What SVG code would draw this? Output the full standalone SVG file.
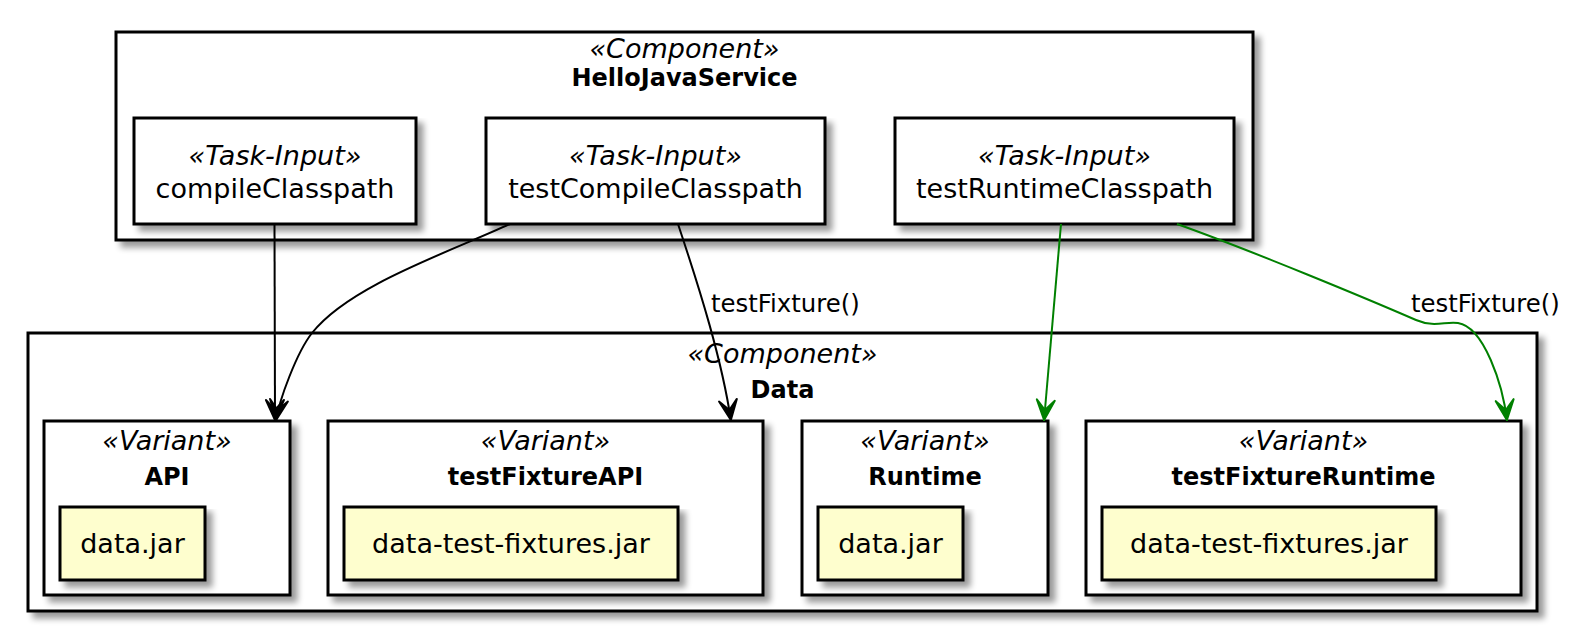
<svg xmlns="http://www.w3.org/2000/svg" width="1583" height="631" viewBox="0 0 1583 631">
<defs>
<filter id="sh" x="-5%" y="-5%" width="115%" height="125%">
<feGaussianBlur in="SourceAlpha" stdDeviation="3"/>
<feOffset dx="6" dy="6" result="o"/>
<feComponentTransfer><feFuncA type="linear" slope="0.4"/></feComponentTransfer>
<feMerge><feMergeNode/><feMergeNode in="SourceGraphic"/></feMerge>
</filter>
<marker id="ah" markerUnits="userSpaceOnUse" orient="auto" refX="0" refY="0" markerWidth="40" markerHeight="40" viewBox="-30 -20 40 40" overflow="visible">
<path d="M-1,0 L-21,-9 L-11,0 L-21,9 Z" fill="#000" stroke="#000" stroke-width="2" stroke-linejoin="round"/>
</marker>
<marker id="ahg" markerUnits="userSpaceOnUse" orient="auto" refX="0" refY="0" markerWidth="40" markerHeight="40" viewBox="-30 -20 40 40" overflow="visible">
<path d="M-1,0 L-21,-9 L-11,0 L-21,9 Z" fill="#008000" stroke="#008000" stroke-width="2" stroke-linejoin="round"/>
</marker>
</defs>
<style>
.box{fill:#fff;stroke:#000;stroke-width:3;filter:url(#sh)}
.art{fill:#FEFECE;stroke:#000;stroke-width:3;filter:url(#sh)}
text{font-family:"DejaVu Sans",sans-serif;fill:#000;text-anchor:middle}
.st{font-style:italic;font-size:27px}
.nm{font-size:27px}
.bd{font-weight:bold;font-size:24px}
.lb{font-size:24.4px;text-anchor:start}
.e{fill:none;stroke:#000;stroke-width:2;marker-end:url(#ah)}
.g{fill:none;stroke:#008000;stroke-width:2;marker-end:url(#ahg)}
</style>
<rect width="1583" height="631" fill="#fff"/>

<g id="HelloJavaService">
<rect class="box" x="116" y="32" width="1137" height="208"/>
<text class="st" x="684.5" y="58">«Component»</text>
<text class="bd" x="684.5" y="86">HelloJavaService</text>
</g>
<g id="compileClasspath">
<rect class="box" x="134" y="118" width="282" height="106"/>
<text class="st" x="275" y="165">«Task-Input»</text>
<text class="nm" x="275" y="198">compileClasspath</text>
</g>
<g id="testCompileClasspath">
<rect class="box" x="486" y="118" width="339" height="106"/>
<text class="st" x="655.5" y="165">«Task-Input»</text>
<text class="nm" x="655.5" y="198">testCompileClasspath</text>
</g>
<g id="testRuntimeClasspath">
<rect class="box" x="895" y="118" width="339" height="106"/>
<text class="st" x="1064.5" y="165">«Task-Input»</text>
<text class="nm" x="1064.5" y="198">testRuntimeClasspath</text>
</g>

<g id="Data">
<rect class="box" x="28" y="333" width="1509" height="278"/>
<text class="st" x="782.5" y="363">«Component»</text>
<text class="bd" x="782.5" y="398">Data</text>
</g>
<g id="API">
<rect class="box" x="44" y="421" width="246" height="174"/>
<text class="st" x="167" y="450">«Variant»</text>
<text class="bd" x="167" y="485">API</text>
</g>
<g id="API-data-jar">
<rect class="art" x="60" y="507" width="145" height="73"/>
<text class="nm" x="132.5" y="553">data.jar</text>
</g>
<g id="testFixtureAPI">
<rect class="box" x="328" y="421" width="435" height="174"/>
<text class="st" x="545.5" y="450">«Variant»</text>
<text class="bd" x="545.5" y="485">testFixtureAPI</text>
</g>
<g id="testFixtureAPI-jar">
<rect class="art" x="344" y="507" width="334" height="73"/>
<text class="nm" x="511" y="553">data-test-fixtures.jar</text>
</g>
<g id="Runtime">
<rect class="box" x="802" y="421" width="246" height="174"/>
<text class="st" x="925" y="450">«Variant»</text>
<text class="bd" x="925" y="485">Runtime</text>
</g>
<g id="Runtime-data-jar">
<rect class="art" x="818" y="507" width="145" height="73"/>
<text class="nm" x="890.5" y="553">data.jar</text>
</g>
<g id="testFixtureRuntime">
<rect class="box" x="1086" y="421" width="435" height="174"/>
<text class="st" x="1303.5" y="450">«Variant»</text>
<text class="bd" x="1303.5" y="485">testFixtureRuntime</text>
</g>
<g id="testFixtureRuntime-jar">
<rect class="art" x="1102" y="507" width="334" height="73"/>
<text class="nm" x="1269" y="553">data-test-fixtures.jar</text>
</g>

<g id="connectors">
<path class="e" d="M274.5,224 L275,421"/>
<path class="e" d="M510,224 C450,252 350,285 312,333 C297,352 279,400 276,421"/>
<path class="e" d="M678,224 C700,290 722,360 731,421"/>
<text class="lb" x="711" y="312">testFixture()</text>
<path class="g" d="M1061,224 L1044,421"/>
<path class="g" d="M1177,224 C1250,250 1370,300 1416,320 C1435,328 1445,321 1458,323 C1484,327 1503,385 1507,421"/>
<text class="lb" x="1411" y="312">testFixture()</text>
</g>
</svg>
